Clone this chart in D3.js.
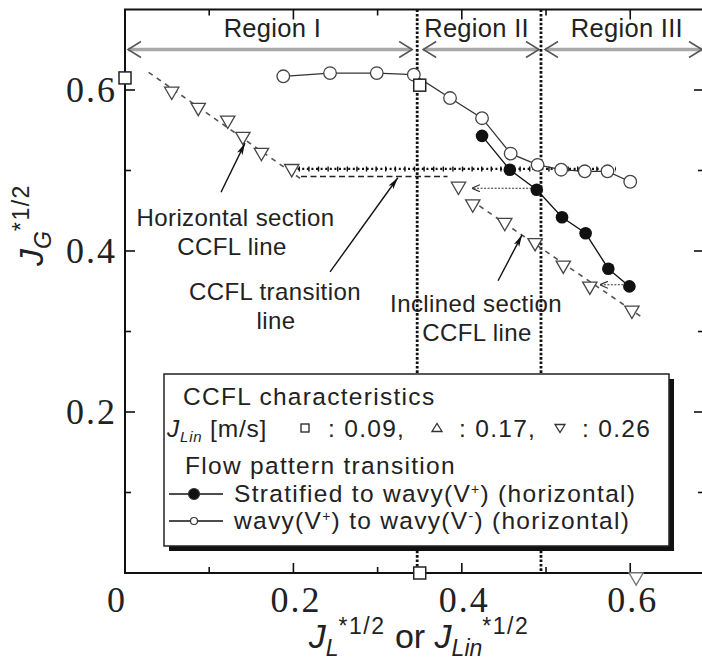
<!DOCTYPE html>
<html>
<head>
<meta charset="utf-8">
<script src="https://cdn.jsdelivr.net/npm/d3@7"></script>
<style>
  html, body { margin: 0; padding: 0; background: #fff; }
  svg { display: block; }
  .sans { font-family: "Liberation Sans", Arial, Helvetica, sans-serif; }
  .serif { font-family: "Liberation Serif", "Times New Roman", serif; }
</style>
</head>
<body>
<svg id="chart" width="702" height="666"></svg>
<script>
// ---- data (J_L*1/2 or J_Lin*1/2, J_G*1/2) ----
const xTicks = [0, 0.2, 0.4, 0.6];
const xMinorTicks = [0.1, 0.3, 0.5];
const yTicks = [0.2, 0.4, 0.6];
const yMinorTicks = [0.1, 0.3, 0.5];

// wavy(V+) to wavy(V-) transition (open circles)
const wavyX = [0.188, 0.2435, 0.299, 0.343, 0.386, 0.424, 0.458, 0.490, 0.518, 0.546, 0.573, 0.600];
const wavyY = [0.617, 0.621, 0.621, 0.619, 0.590, 0.565, 0.521, 0.507, 0.501, 0.499, 0.499, 0.486];

// stratified to wavy(V+) transition (filled circles)
const stratX = [0.424, 0.457, 0.489, 0.519, 0.547, 0.574, 0.599];
const stratY = [0.543, 0.501, 0.476, 0.442, 0.422, 0.378, 0.356];

// CCFL, J_Lin = 0.26 : horizontal section
const ccflHX = [0.0555, 0.087, 0.122, 0.140, 0.162, 0.198];
const ccflHY = [0.597, 0.577, 0.561, 0.541, 0.521, 0.501];

// CCFL, J_Lin = 0.26 : inclined section
const ccflIX = [0.396, 0.413, 0.451, 0.487, 0.5205, 0.552, 0.602];
const ccflIY = [0.479, 0.457, 0.434, 0.409, 0.381, 0.355, 0.325];

// CCFL, J_Lin = 0.09 (squares) and the end point of the 0.26 case on the axis
const sqX = [0, 0.35, 0.35];
const sqY = [0.615, 0.606, 0];
const axisTriX = [0.607];
const axisTriY = [0];

// reference lines
const regionBounds = [0.347, 0.494];          // region boundaries
const transitionLevel = 0.502;                // CCFL transition line (dotted)
const transitionSpan = [0.205, 0.583];
const horizLevel = 0.4925;                    // horizontal section CCFL line (dashed)
const horizSpan = [0.209, 0.383];
const upperFitX = [0.028, 0.211], upperFitY = [0.622, 0.488];
const lowerFitX = [0.411, 0.615], lowerFitY = [0.463, 0.317];

// shift arrows from the transition points to the CCFL points
const shiftFromX = [0.487, 0.596], shiftToX = [0.412, 0.564], shiftY = [0.478, 0.358];

// region labels
const regionNames = ["Region I", "Region II", "Region III"];

// ---- scales ----
const xMax = 0.6876, yMax = 0.70;
const x = d3.scaleLinear().domain([0, xMax]).range([125, 704]);
const y = d3.scaleLinear().domain([0, yMax]).range([573, 9.5]);

const svg = d3.select("#chart");
const defs = svg.append("defs");

// filled arrowhead for callouts
defs.append("marker").attr("id", "headFill")
  .attr("viewBox", "0 0 12 8").attr("refX", 12).attr("refY", 4)
  .attr("markerWidth", 12).attr("markerHeight", 8).attr("markerUnits", "userSpaceOnUse")
  .attr("orient", "auto")
  .append("path").attr("d", "M0,1 L12,4 L0,7 L3,4 Z").attr("fill", "#111");

// open chevron for the dotted shift arrows
defs.append("marker").attr("id", "headOpen")
  .attr("viewBox", "0 0 8 8").attr("refX", 8).attr("refY", 4)
  .attr("markerWidth", 8).attr("markerHeight", 8).attr("markerUnits", "userSpaceOnUse")
  .attr("orient", "auto")
  .append("path").attr("d", "M0,0.5 L8,4 L0,7.5").attr("fill", "none")
  .attr("stroke", "#333").attr("stroke-width", 1.2);

// ---- region arrows across the top ----
const arrowY = 49.5;
const regionSpans = [[x(0) + 3, x(regionBounds[0]) - 5],
                     [x(regionBounds[0]) + 6, x(regionBounds[1]) - 2],
                     [x(regionBounds[1]) + 4, 702]];
const regG = svg.append("g");
regionSpans.forEach(([a, b]) => {
  regG.append("line").attr("x1", a).attr("x2", b).attr("y1", arrowY).attr("y2", arrowY)
    .attr("stroke", "#a8a8a8").attr("stroke-width", 3.5);
  regG.append("path").attr("d", `M${a + 13},${arrowY - 8} L${a},${arrowY} L${a + 13},${arrowY + 8}`)
    .attr("fill", "none").attr("stroke", "#555").attr("stroke-width", 1.5);
  regG.append("path").attr("d", `M${b - 13},${arrowY - 8} L${b},${arrowY} L${b - 13},${arrowY + 8}`)
    .attr("fill", "none").attr("stroke", "#555").attr("stroke-width", 1.5);
});
const regionLabelX = [0.175, 0.4175, 0.596];
regionNames.forEach((t, i) => {
  regG.append("text").attr("class", "sans").attr("x", x(regionLabelX[i])).attr("y", 37)
    .attr("text-anchor", "middle").attr("font-size", 25.5).attr("letter-spacing", 0.3)
    .attr("fill", "#222").text(t);
});

// ---- region boundary lines ----
regionBounds.forEach(v => {
  svg.append("line").attr("x1", x(v)).attr("x2", x(v)).attr("y1", y(yMax)).attr("y2", y(0))
    .attr("stroke", "#111").attr("stroke-width", 2.8).attr("stroke-dasharray", "2.6,1.8");
});

// ---- CCFL transition line (dotted with crosses) ----
svg.append("line").attr("x1", x(transitionSpan[0])).attr("x2", x(transitionSpan[1]))
  .attr("y1", y(transitionLevel)).attr("y2", y(transitionLevel))
  .attr("stroke", "#111").attr("stroke-width", 2.2).attr("stroke-dasharray", "2,2.6");
svg.append("line").attr("x1", x(transitionSpan[0]) + 1).attr("x2", x(transitionSpan[1]))
  .attr("y1", y(transitionLevel)).attr("y2", y(transitionLevel))
  .attr("stroke", "#111").attr("stroke-width", 5).attr("stroke-dasharray", "1.4,8.2");

// horizontal section CCFL line (dashed)
svg.append("line").attr("x1", x(horizSpan[0])).attr("x2", x(horizSpan[1]))
  .attr("y1", y(horizLevel)).attr("y2", y(horizLevel))
  .attr("stroke", "#222").attr("stroke-width", 1.4).attr("stroke-dasharray", "6,3.5");

// inclined dashed CCFL lines
[[upperFitX, upperFitY], [lowerFitX, lowerFitY]].forEach(([xs, ys]) => {
  svg.append("line").attr("x1", x(xs[0])).attr("x2", x(xs[1])).attr("y1", y(ys[0])).attr("y2", y(ys[1]))
    .attr("stroke", "#555").attr("stroke-width", 1.6).attr("stroke-dasharray", "5,5");
});

// ---- transition curves ----
const lineGen = d3.line().x(d => x(d[0])).y(d => y(d[1]));
const wavyPts = wavyX.map((v, i) => [v, wavyY[i]]);
const stratPts = stratX.map((v, i) => [v, stratY[i]]);
svg.append("path").attr("d", lineGen(wavyPts)).attr("fill", "none").attr("stroke", "#333").attr("stroke-width", 1.3);
svg.append("path").attr("d", lineGen(stratPts)).attr("fill", "none").attr("stroke", "#111").attr("stroke-width", 1.3);

// dotted shift arrows
shiftFromX.forEach((v, i) => {
  svg.append("line").attr("x1", x(v)).attr("x2", x(shiftToX[i])).attr("y1", y(shiftY[i])).attr("y2", y(shiftY[i]))
    .attr("stroke", "#333").attr("stroke-width", 1.1).attr("stroke-dasharray", "2,1.5")
    .attr("marker-end", "url(#headOpen)");
});

// ---- markers ----
const triDown = s => `M${-s * 0.55},${-s * 0.4} L${s * 0.55},${-s * 0.4} L0,${s * 0.55} Z`;
function triangles(xs, ys) {
  svg.append("g").selectAll("path").data(xs.map((v, i) => [v, ys[i]])).join("path")
    .attr("transform", d => `translate(${x(d[0])},${y(d[1])})`)
    .attr("d", triDown(13)).attr("fill", "#fff").attr("stroke", "#444").attr("stroke-width", 1.3);
}
triangles(ccflHX, ccflHY);
triangles(ccflIX, ccflIY);

svg.append("g").selectAll("circle").data(wavyPts).join("circle")
  .attr("cx", d => x(d[0])).attr("cy", d => y(d[1])).attr("r", 6.3)
  .attr("fill", "#fff").attr("stroke", "#444").attr("stroke-width", 1.3);
svg.append("g").selectAll("circle").data(stratPts).join("circle")
  .attr("cx", d => x(d[0])).attr("cy", d => y(d[1])).attr("r", 6.3)
  .attr("fill", "#111");

// ---- callout arrows and their texts ----
const callouts = [
  { from: [0.114, 0.473], to: [0.1425, 0.534] },
  { from: [0.2435, 0.374], to: [0.324, 0.491] },
  { from: [0.443, 0.363], to: [0.4715, 0.420] }
];
callouts.forEach(c => {
  svg.append("line").attr("x1", x(c.from[0])).attr("y1", y(c.from[1]))
    .attr("x2", x(c.to[0])).attr("y2", y(c.to[1]))
    .attr("stroke", "#111").attr("stroke-width", 1.4).attr("marker-end", "url(#headFill)");
});
const calloutText = [
  { lines: ["Horizontal section", "CCFL line"], cx: [235.5, 232], base: [226, 255] },
  { lines: ["CCFL transition", "line"], cx: [275, 276], base: [300, 329] },
  { lines: ["Inclined section", "CCFL line"], cx: [476, 477], base: [311.5, 341] }
];
calloutText.forEach(t => {
  t.lines.forEach((s, i) => {
    svg.append("text").attr("class", "sans").attr("x", t.cx[i]).attr("y", t.base[i])
      .attr("text-anchor", "middle").attr("font-size", 24).attr("letter-spacing", 0.4)
      .attr("fill", "#222").text(s);
  });
});

// ---- legend ----
const lg = svg.append("g");
const L = { x: 164, y: 374, w: 505, h: 172 };
lg.append("rect").attr("x", L.x + 5).attr("y", L.y + 5).attr("width", L.w).attr("height", L.h).attr("fill", "#111");
lg.append("rect").attr("x", L.x).attr("y", L.y).attr("width", L.w).attr("height", L.h)
  .attr("fill", "#fff").attr("stroke", "#222").attr("stroke-width", 1.5);

const LFS = 24.5, LLS = 1.3;
const lgText = (xx, yy, s) => lg.append("text").attr("class", "sans").attr("x", xx).attr("y", yy)
  .attr("font-size", LFS).attr("letter-spacing", LLS).attr("fill", "#222").text(s);
lgText(183, 405, "CCFL characteristics");

// J_Lin [m/s] row
const jl = lg.append("text").attr("class", "sans").attr("x", 167).attr("y", 437)
  .attr("font-size", LFS).attr("letter-spacing", 0.8).attr("fill", "#222");
jl.append("tspan").attr("font-style", "italic").text("J");
jl.append("tspan").attr("font-style", "italic").attr("font-size", 15).attr("dy", 5).text("Lin");
jl.append("tspan").attr("dy", -5).text(" [m/s]");
lg.append("rect").attr("x", 301).attr("y", 424).attr("width", 8).attr("height", 8)
  .attr("fill", "#fff").attr("stroke", "#222").attr("stroke-width", 1.3);
lgText(328, 437, ": 0.09,");
lg.append("path").attr("transform", "translate(437,428)")
  .attr("d", "M-5,3.5 L5,3.5 L0,-4.5 Z").attr("fill", "#fff").attr("stroke", "#333").attr("stroke-width", 1.3);
lgText(459, 437, ": 0.17,");
lg.append("path").attr("transform", "translate(560,428)")
  .attr("d", "M-5,-3.5 L5,-3.5 L0,4.5 Z").attr("fill", "#fff").attr("stroke", "#333").attr("stroke-width", 1.3);
lgText(582, 437, ": 0.26");

lgText(185, 474, "Flow pattern transition");

// series rows
const rowY = [494, 521];
rowY.forEach((yy, i) => {
  const filled = i === 0;
  lg.append("line").attr("x1", 169).attr("x2", 223).attr("y1", yy).attr("y2", yy).attr("stroke", "#111").attr("stroke-width", 1.4);
  lg.append("circle").attr("cx", 194).attr("cy", yy).attr("r", filled ? 5.5 : 3.5)
    .attr("fill", filled ? "#111" : "#fff").attr("stroke", "#333").attr("stroke-width", 1.2);
});
const t1 = lg.append("text").attr("class", "sans").attr("x", 234).attr("y", rowY[0] + 8)
  .attr("font-size", LFS).attr("letter-spacing", LLS).attr("fill", "#222");
t1.append("tspan").text("Stratified to wavy(V");
t1.append("tspan").attr("font-size", 14).attr("dy", -8).text("+");
t1.append("tspan").attr("dy", 8).text(") (horizontal)");
const t2 = lg.append("text").attr("class", "sans").attr("x", 234).attr("y", rowY[1] + 8)
  .attr("font-size", LFS).attr("letter-spacing", LLS).attr("fill", "#222");
t2.append("tspan").text("wavy(V");
t2.append("tspan").attr("font-size", 14).attr("dy", -8).text("+");
t2.append("tspan").attr("dy", 8).text(") to wavy(V");
t2.append("tspan").attr("font-size", 14).attr("dy", -8).text("-");
t2.append("tspan").attr("dy", 8).text(") (horizontal)");

// ---- axes (frame with inward ticks on all sides) ----
const fr = svg.append("g");
fr.append("rect").attr("x", x(0)).attr("y", y(yMax)).attr("width", x(xMax) - x(0)).attr("height", y(0) - y(yMax))
  .attr("fill", "none").attr("stroke", "#111").attr("stroke-width", 2);

const tickLen = v => (xMinorTicks.includes(v) || yMinorTicks.includes(v)) ? 6 : 10;
xTicks.concat(xMinorTicks).forEach(v => {
  fr.append("line").attr("x1", x(v)).attr("x2", x(v)).attr("y1", y(0)).attr("y2", y(0) - tickLen(v)).attr("stroke", "#111").attr("stroke-width", 1.6);
  fr.append("line").attr("x1", x(v)).attr("x2", x(v)).attr("y1", y(yMax)).attr("y2", y(yMax) + tickLen(v)).attr("stroke", "#111").attr("stroke-width", 1.6);
});
yTicks.concat(yMinorTicks).forEach(v => {
  fr.append("line").attr("x1", x(0)).attr("x2", x(0) + tickLen(v)).attr("y1", y(v)).attr("y2", y(v)).attr("stroke", "#111").attr("stroke-width", 1.6);
  fr.append("line").attr("x1", x(xMax)).attr("x2", x(xMax) - tickLen(v)).attr("y1", y(v)).attr("y2", y(v)).attr("stroke", "#111").attr("stroke-width", 1.6);
});

// tick labels (the origin label sits a little left of the corner)
xTicks.forEach(v => {
  fr.append("text").attr("class", "serif").attr("x", x(v) + (v === 0 ? -8 : 2.5)).attr("y", 612).attr("text-anchor", "middle")
    .attr("font-size", 36).attr("letter-spacing", 2).attr("fill", "#222").text(d3.format("")(v));
});
yTicks.forEach(v => {
  fr.append("text").attr("class", "serif").attr("x", 117).attr("y", y(v) + 12).attr("text-anchor", "end")
    .attr("font-size", 36).attr("letter-spacing", 2).attr("fill", "#222").text(v.toFixed(1));
});

// squares and axis triangle on top of the frame
svg.append("g").selectAll("rect").data(sqX.map((v, i) => [v, sqY[i]])).join("rect")
  .attr("x", d => x(d[0]) - 6).attr("y", d => y(d[1]) - 6).attr("width", 12).attr("height", 12)
  .attr("fill", "#fff").attr("stroke", "#222").attr("stroke-width", 1.5);
svg.append("g").selectAll("path").data(axisTriX.map((v, i) => [v, axisTriY[i]])).join("path")
  .attr("transform", d => `translate(${x(d[0])},${y(d[1]) + 5})`)
  .attr("d", triDown(13)).attr("fill", "#fff").attr("stroke", "#777").attr("stroke-width", 1.3);

// axis titles
const xt = svg.append("text").attr("class", "sans").attr("x", 419).attr("y", 648).attr("text-anchor", "middle")
  .attr("font-size", 34).attr("fill", "#222");
xt.append("tspan").attr("font-style", "italic").text("J");
xt.append("tspan").attr("font-style", "italic").attr("font-size", 23).attr("dy", 8).text("L");
xt.append("tspan").attr("font-size", 23).attr("letter-spacing", 1.5).attr("dy", -22).text("*1/2");
xt.append("tspan").attr("dy", 14).text(" or ");
xt.append("tspan").attr("font-style", "italic").text("J");
xt.append("tspan").attr("font-style", "italic").attr("font-size", 23).attr("dy", 8).text("Lin");
xt.append("tspan").attr("font-size", 23).attr("letter-spacing", 1.5).attr("dy", -22).text("*1/2");

const yt = svg.append("text").attr("class", "sans").attr("transform", "translate(43,225) rotate(-90)")
  .attr("text-anchor", "middle").attr("font-size", 34).attr("fill", "#222");
yt.append("tspan").attr("font-style", "italic").text("J");
yt.append("tspan").attr("font-style", "italic").attr("font-size", 23).attr("dy", 8).text("G");
yt.append("tspan").attr("font-size", 23).attr("letter-spacing", 1.5).attr("dy", -22).text("*1/2");
</script>
</body>
</html>
